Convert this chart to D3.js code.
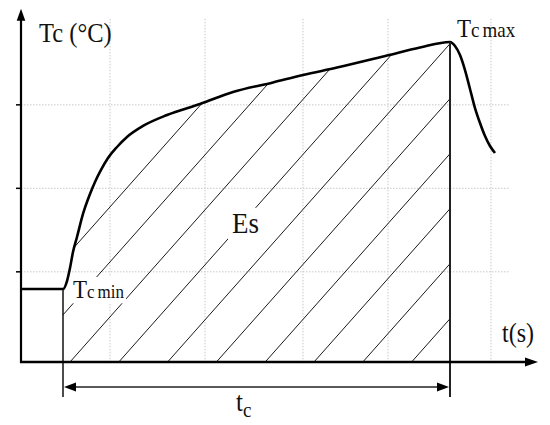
<!DOCTYPE html>
<html>
<head>
<meta charset="utf-8">
<script src="https://cdn.jsdelivr.net/npm/d3@7"></script>
<style>
  html, body { margin: 0; padding: 0; background: #fff; }
  svg { display: block; }
  svg text { font-family: 'Liberation Serif', 'Times New Roman', serif; fill: #111; }
</style>
</head>
<body>
<svg id="chart" width="550" height="425"></svg>
<script>
// ---- data (time in s, temperature in °C, schematic units) ----
const curveTime = [0, 42, 46, 49, 52, 56, 62, 69, 74, 80, 87, 96, 106, 122, 146, 179, 212, 252, 282, 316, 366, 399, 429, 434, 439, 444, 449, 454, 459, 464, 469, 474];
const curveTemp = [79.4, 79.4, 89.0, 104.6, 123.7, 141.7, 169.3, 193.2, 207.6, 222.0, 236.3, 249.5, 261.5, 274.7, 287.8, 301.0, 315.4, 326.8, 335.7, 344.7, 359.1, 368.7, 375.3, 370.5, 359.7, 341.7, 319.0, 296.2, 278.3, 262.7, 250.7, 242.3];
const tempTicks = [100, 200, 300];
const timeGrid = [89, 184, 282, 367, 470];
const tMin = 42;          // start of interval (Tc min)
const tMax = 429;         // time of Tc max
const timeEnd = 517;      // end of time axis (arrow tip)
const tempTop = 415;      // end of temperature axis (arrow tip)
const hatchStarts = [-48.6, 0.2, 49, 97.8, 146.6, 195.4, 244.2, 293, 341.8, 390.6]; // hatch line x-intercepts (s)

const labels = {
  yTitle: "Tc (°C)",
  xTitle: "t(s)",
  area: "Es",
  interval: ["t", "c"],
  tcMax: ["T", "c", "max"],
  tcMin: ["T", "c", "min"]
};

// ---- scales ----
const x = d3.scaleLinear().domain([0, 520]).range([21, 541]);
const y = d3.scaleLinear().domain([-8, 410]).range([362, 13]);

const svg = d3.select("#chart");
const pts = curveTime.map((t, i) => ({ t, v: curveTemp[i] }));
const x0 = x(0), yBase = y(-8);

// ---- grid (dotted) ----
const grid = svg.append("g").attr("stroke", "#c8c8c8").attr("stroke-width", 1).attr("stroke-dasharray", "1.5,1.5");
grid.selectAll("line.h").data(tempTicks).join("line")
  .attr("x1", x0).attr("x2", x(488)).attr("y1", d => y(d)).attr("y2", d => y(d));
grid.selectAll("line.v").data(timeGrid).join("line")
  .attr("x1", d => x(d)).attr("x2", d => x(d)).attr("y1", y(403)).attr("y2", yBase);

// ---- hatched area under curve between tMin and tMax ----
const defs = svg.append("defs");
const area = d3.area().x(d => x(d.t)).y0(yBase).y1(d => y(d.v)).curve(d3.curveMonotoneX);
defs.append("clipPath").attr("id", "under").append("path").attr("d", area(pts));
const slope = 1.127;
const xa = x(tMin), xb = x(tMax);
const hatch = svg.append("g").attr("clip-path", "url(#under)")
  .attr("stroke", "#1a1a1a").attr("stroke-width", 1);
hatch.selectAll("line").data(hatchStarts).join("line")
  .attr("x1", d => Math.max(x(d), xa))
  .attr("y1", d => yBase - slope * (Math.max(x(d), xa) - x(d)))
  .attr("x2", xb)
  .attr("y2", d => yBase - slope * (xb - x(d)));

// ---- curve ----
const line = d3.line().x(d => x(d.t)).y(d => y(d.v)).curve(d3.curveMonotoneX);
svg.append("path").attr("d", line(pts)).attr("fill", "none")
  .attr("stroke", "#000").attr("stroke-width", 2.6).attr("stroke-linejoin", "round");

// ---- vertical bounds at tMin and tMax ----
const tcY = 387;
svg.append("line").attr("x1", xa).attr("x2", xa).attr("y1", y(curveTemp[1])).attr("y2", tcY + 10)
  .attr("stroke", "#111").attr("stroke-width", 1.5);
svg.append("line").attr("x1", xb).attr("x2", xb).attr("y1", y(curveTemp[curveTime.indexOf(tMax)])).attr("y2", tcY + 10)
  .attr("stroke", "#222").attr("stroke-width", 2);

// ---- axes ----
const axes = svg.append("g");
axes.append("line").attr("x1", x0).attr("x2", x0).attr("y1", yBase + 1).attr("y2", y(tempTop) + 8)
  .attr("stroke", "#000").attr("stroke-width", 2.2);
axes.append("path").attr("d", `M${x0},${y(tempTop)} L${x0 - 4.3},${y(tempTop) + 12} L${x0 + 4.3},${y(tempTop) + 12} Z`).attr("fill", "#000");
axes.append("line").attr("x1", x0 - 1).attr("x2", x(timeEnd) - 8).attr("y1", yBase).attr("y2", yBase)
  .attr("stroke", "#000").attr("stroke-width", 2.6);
axes.append("path").attr("d", `M${x(timeEnd)},${yBase} L${x(timeEnd) - 13},${yBase - 4.5} L${x(timeEnd) - 13},${yBase + 4.5} Z`).attr("fill", "#000");
axes.selectAll("line.tick").data(tempTicks).join("line")
  .attr("x1", x0 - 5).attr("x2", x0).attr("y1", d => y(d)).attr("y2", d => y(d))
  .attr("stroke", "#000").attr("stroke-width", 1.5);

// ---- tc double arrow ----
const arr = svg.append("g");
arr.append("line").attr("x1", xa + 10).attr("x2", xb - 10).attr("y1", tcY).attr("y2", tcY)
  .attr("stroke", "#222").attr("stroke-width", 1.6);
arr.append("path").attr("d", `M${xa + 1},${tcY} L${xa + 13},${tcY - 4.5} L${xa + 13},${tcY + 4.5} Z`).attr("fill", "#000");
arr.append("path").attr("d", `M${xb - 1},${tcY} L${xb - 13},${tcY - 4.5} L${xb - 13},${tcY + 4.5} Z`).attr("fill", "#000");

// ---- labels (slightly tall serif lettering) ----
const STRETCH = 1.12;
const lab = svg.append("g");
function label(px, py) {
  return lab.append("g").attr("transform", `translate(${px},${py}) scale(1,${STRETCH})`).append("text").attr("x", 0).attr("y", 0);
}
function withBg(textSel, pad) {
  const b = textSel.node().getBBox();
  const r = document.createElementNS("http://www.w3.org/2000/svg", "rect");
  r.setAttribute("x", b.x - pad); r.setAttribute("y", b.y + 2);
  r.setAttribute("width", b.width + 2 * pad); r.setAttribute("height", b.height - 2);
  r.setAttribute("fill", "#fff");
  textSel.node().parentNode.insertBefore(r, textSel.node());
}

label(x0 + 18, 42).attr("font-size", 24.5).text(labels.yTitle);

const tmx = label(xb + 7, 37);
tmx.append("tspan").attr("font-size", 23).text(labels.tcMax[0]);
tmx.append("tspan").attr("font-size", 19).text(labels.tcMax[1]);
tmx.append("tspan").attr("font-size", 19).attr("dx", 3).text(labels.tcMax[2]);

const tmn = label(xa + 10, 298);
tmn.append("tspan").attr("font-size", 23).text(labels.tcMin[0]);
tmn.append("tspan").attr("font-size", 17).text(labels.tcMin[1]);
tmn.append("tspan").attr("font-size", 17).attr("dx", 3).text(labels.tcMin[2]);
withBg(tmn, 2);

const es = label(232, 233).attr("font-size", 27).text(labels.area);
withBg(es, 4);

label(502, 342).attr("font-size", 24).text(labels.xTitle);

const tc = label(236, 411);
tc.append("tspan").attr("font-size", 25).text(labels.interval[0]);
tc.append("tspan").attr("font-size", 19).attr("dy", 5).text(labels.interval[1]);
</script>
</body>
</html>
